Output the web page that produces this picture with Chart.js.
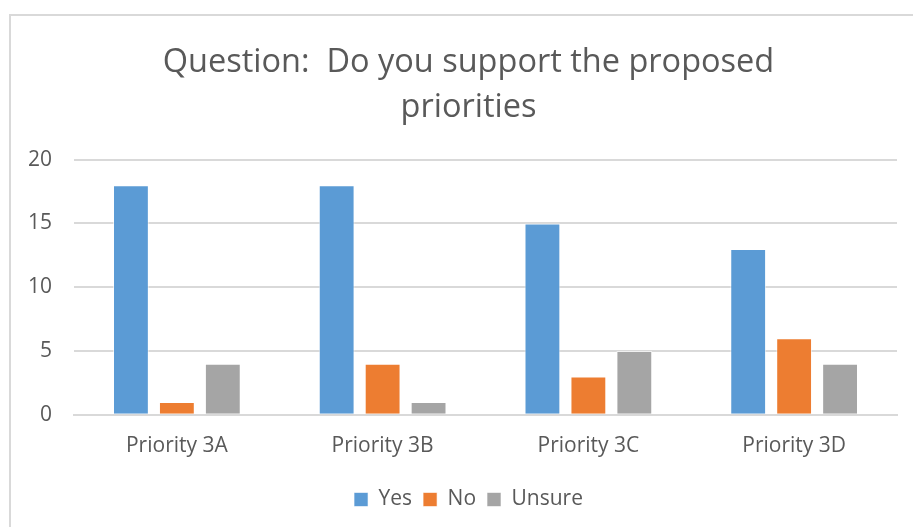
<!DOCTYPE html>
<html>
<head>
<meta charset="utf-8">
<title>Priority support survey</title>
<script src="https://cdn.jsdelivr.net/npm/chart.js@4/dist/chart.umd.min.js"></script>
<style>
    html, body { margin: 0; padding: 0; background: #fff; overflow: hidden; }
    #frame {
        position: absolute;
        left: 9px;
        top: 14px;
        width: 940px;
        height: 560px;
        border: 2px solid #d9d9d9;
    }
    #wrap { position: absolute; left: 0; top: 0; width: 913px; height: 527px; }
</style>
</head>
<body>
<div id="frame"></div>
<div id="wrap"><canvas id="survey-chart" width="913" height="527"></canvas></div>
<script>
// Survey answers per priority
const categories = ['Priority 3A', 'Priority 3B', 'Priority 3C', 'Priority 3D'];
const yesVotes = [18, 18, 15, 13];
const noVotes = [1, 4, 3, 6];
const unsureVotes = [4, 1, 5, 4];
const yTicks = [0, 5, 10, 15, 20];

const TEXT_COLOR = '#595959';
const GRID_COLOR = '#d9d9d9';
const FONT = '"Open Sans", sans-serif';

function makeDataset(label, data, color) {
    return {
        label: label,
        data: data,
        backgroundColor: color,
        borderColor: 'rgba(255,255,255,0.6)',
        borderWidth: 1,
        categoryPercentage: 0.67,
        barPercentage: 0.78
    };
}

// Title and legend are centred on the outer frame, not on the full canvas
const centreOnFrame = {
    id: 'centreOnFrame',
    afterLayout(chart) {
        [chart.titleBlock, chart.legend].forEach(box => {
            if (box) box.left = 40;
        });
    }
};

const ctx = document.getElementById('survey-chart').getContext('2d');
new Chart(ctx, {
    type: 'bar',
    data: {
        labels: categories,
        datasets: [
            makeDataset('Yes', yesVotes, '#5b9bd5'),
            makeDataset('No', noVotes, '#ed7d31'),
            makeDataset('Unsure', unsureVotes, '#a5a5a5')
        ]
    },
    plugins: [centreOnFrame],
    options: {
        responsive: false,
        animation: false,
        layout: { padding: { left: 0, right: 16, top: 0, bottom: 7 } },
        scales: {
            x: {
                grid: { display: false, drawTicks: false },
                border: { color: GRID_COLOR, width: 2 },
                ticks: {
                    color: TEXT_COLOR,
                    font: { family: FONT, size: 21 },
                    padding: 19
                }
            },
            y: {
                min: 0,
                max: 20,
                afterFit: (scale) => { scale.width = 74; },
                afterBuildTicks: (scale) => {
                    scale.ticks = yTicks.map(v => ({ value: v }));
                },
                grid: { color: GRID_COLOR, lineWidth: 2, drawTicks: false },
                border: { display: false },
                ticks: {
                    color: TEXT_COLOR,
                    font: { family: FONT, size: 21 },
                    padding: 22
                }
            }
        },
        plugins: {
            title: {
                display: true,
                text: ['Question:  Do you support the proposed', 'priorities'],
                color: TEXT_COLOR,
                font: { family: FONT, size: 32.5, weight: 'normal', lineHeight: 1.38 },
                padding: { top: 40, bottom: 30 }
            },
            legend: {
                position: 'bottom',
                labels: {
                    color: TEXT_COLOR,
                    font: { family: FONT, size: 21 },
                    boxWidth: 14,
                    boxHeight: 14,
                    padding: 11
                }
            },
            tooltip: { enabled: false }
        }
    }
});
</script>
</body>
</html>
